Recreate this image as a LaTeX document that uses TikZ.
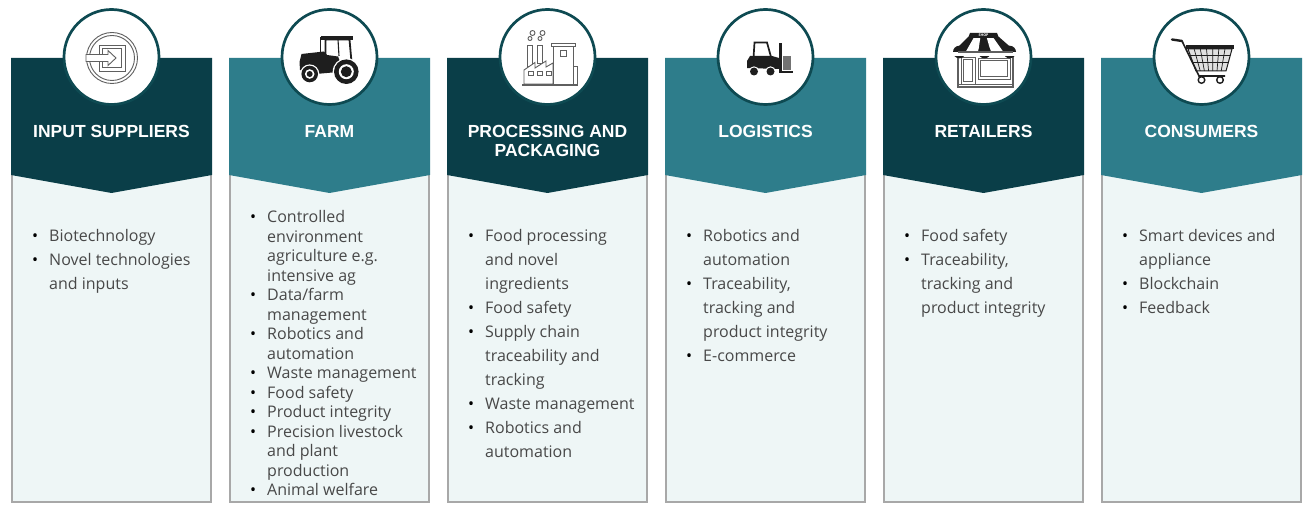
\documentclass[tikz,border=0pt]{standalone}
\usepackage{fontspec}
\setmainfont{Open Sans}
\newfontfamily\headfont{Liberation Sans}
\definecolor{darkteal}{RGB}{10,62,72}
\definecolor{midteal}{RGB}{46,125,139}
\definecolor{ringcol}{RGB}{14,74,82}
\definecolor{bodyfill}{RGB}{238,246,246}
\definecolor{boxline}{RGB}{168,168,168}
\definecolor{txtcol}{RGB}{72,72,72}
\definecolor{icongray}{RGB}{95,95,95}
\definecolor{iconblack}{RGB}{30,30,30}
\newcommand\bul{\makebox[17pt][l]{\textcolor{black}{\textbullet}}}
\tikzset{
  bodybox/.style={draw=boxline, line width=2pt, fill=bodyfill},
  ring/.style={circle, draw=ringcol, line width=2.7pt, fill=white, minimum size=95pt, inner sep=0pt},
  headtext/.style={anchor=north, inner sep=0pt, text=white, align=center,
    font=\headfont\bfseries\fontsize{17.5}{19.5}\selectfont},
  listtext/.style={anchor=base west, inner sep=0pt, text=txtcol, font=\fontsize{16}{24}\selectfont},
  farmtext/.style={listtext, font=\fontsize{16}{19.5}\selectfont},
  icon/.style={draw=icongray, line width=0.9pt},
}
\newcommand\stageframe[3]{%
  \draw[bodybox] (#1+1,165) rectangle (#1+200,502);
  \fill[#2] (#1,58) -- (#1+201,58) -- (#1+201,175) -- (#1+100.5,193) -- (#1,175) -- cycle;
  \node[ring] (#3) at (#1+100.5,57) {};
}
\begin{document}
\begin{tikzpicture}[x=1pt,y=-1pt]
\useasboundingbox[fill=white] (0,0) rectangle (1310,505);

% ---------- frames ----------
\stageframe{11}{darkteal}{c1}
\stageframe{229}{midteal}{c2}
\stageframe{447}{darkteal}{c3}
\stageframe{665}{midteal}{c4}
\stageframe{883}{darkteal}{c5}
\stageframe{1101}{midteal}{c6}

% ---------- headings ----------
\node[headtext] (h1) at (111.5,125) {INPUT SUPPLIERS};
\node[headtext] (h2) at (329.5,125) {FARM};
\node[headtext] (h3) at (547.5,125) {PROCESSING AND\\PACKAGING};
\node[headtext] (h4) at (765.5,125) {LOGISTICS};
\node[headtext] (h5) at (983.5,125) {RETAILERS};
\node[headtext] (h6) at (1201.5,125) {CONSUMERS};

% ---------- lists ----------
\node[listtext] (l1) at (32,242) {\begin{tabular}[t]{@{}l@{}l@{}}
\bul & Biotechnology\\
\bul & Novel technologies\\
     & and inputs
\end{tabular}};

\node[farmtext] (l2) at (250,222.7) {\begin{tabular}[t]{@{}l@{}l@{}}
\bul & Controlled\\
     & environment\\
     & agriculture e.g.\\
     & intensive ag\\
\bul & Data/farm\\
     & management\\
\bul & Robotics and\\
     & automation\\
\bul & Waste management\\
\bul & Food safety\\
\bul & Product integrity\\
\bul & Precision livestock\\
     & and plant\\
     & production\\
\bul & Animal welfare
\end{tabular}};

\node[listtext] (l3) at (468,242) {\begin{tabular}[t]{@{}l@{}l@{}}
\bul & Food processing\\
     & and novel\\
     & ingredients\\
\bul & Food safety\\
\bul & Supply chain\\
     & traceability and\\
     & tracking\\
\bul & Waste management\\
\bul & Robotics and\\
     & automation
\end{tabular}};

\node[listtext] (l4) at (686,242) {\begin{tabular}[t]{@{}l@{}l@{}}
\bul & Robotics and\\
     & automation\\
\bul & Traceability,\\
     & tracking and\\
     & product integrity\\
\bul & E-commerce
\end{tabular}};

\node[listtext] (l5) at (904,242) {\begin{tabular}[t]{@{}l@{}l@{}}
\bul & Food safety\\
\bul & Traceability,\\
     & tracking and\\
     & product integrity
\end{tabular}};

\node[listtext] (l6) at (1122,242) {\begin{tabular}[t]{@{}l@{}l@{}}
\bul & Smart devices and\\
     & appliance\\
\bul & Blockchain\\
\bul & Feedback
\end{tabular}};

% ---------- icon 1: input ----------
\begin{scope}[icon]
  \draw (112,58) circle (25.5);
  \draw (112,58) circle (22.5);
  \draw[fill=white] (99,45) rectangle (125,71);
  \draw (102.5,48.5) rectangle (121.5,67.5);
  \draw[fill=white] (86,54.5) -- (108,54.5) -- (108,50.5) -- (116,58) -- (108,65.5) -- (108,61.5) -- (86,61.5) -- cycle;
\end{scope}

% ---------- icon 2: tractor ----------
\begin{scope}[iconblack]
  \fill (299.5,62) -- (301.5,54) -- (324,51.5) -- (327,55) -- (338,56.5) -- (341,64) -- (338,72) -- (316,74) -- (300,70) -- cycle;
  \draw[line width=1.8pt] (325.5,55) -- (325.5,39.5) -- (349.5,39.5) -- (351.5,62);
  \draw[line width=1.1pt] (338,39.5) -- (339,56);
  \fill (321,36.5) rectangle (353,39.8);
  \draw[line width=1.6pt] (320.5,37) -- (320.5,52);
  \fill[white] (346.3,71.7) circle (13.6);
  \fill (346.3,71.7) circle (12.3);
  \fill[white] (346.3,71.7) circle (7.5);
  \fill (346.3,71.7) circle (5.5);
  \fill[white] (309.7,74) circle (9.6);
  \fill (309.7,74) circle (8.3);
  \fill[white] (309.7,74) circle (4.8);
  \fill (309.7,74) circle (3);
\end{scope}

% ---------- icon 3: factory ----------
\begin{scope}[icon]
  \draw[fill=white] (527.5,45) rectangle (532.5,66);
  \draw[fill=white] (537.5,45) rectangle (542.5,63);
  \draw[fill=white] (524,84) -- (524,70) -- (535,62.5) -- (535,68) -- (546,61) -- (546,67) -- (553,63) -- (553,84) -- cycle;
  \draw[fill=white] (553,46) rectangle (573,84);
  \draw[fill=white] (551,43) rectangle (575,46.5);
  \draw (560,50) rectangle (566,56);
  \draw (573,66) rectangle (577,84);
  \draw (528,71) rectangle (533,75.5);
  \draw (537,71) rectangle (542,75.5);
  \draw (546,71) rectangle (551,75.5);
  \draw (530,38.5) circle (2);
  \draw (532.5,33) circle (2.5);
  \draw (540,38.5) circle (2);
  \draw (542.5,33) circle (2.5);
  \draw[line width=2.2pt] (522,85) -- (578,85);
\end{scope}

% ---------- icon 4: forklift ----------
\begin{scope}[iconblack]
  \draw[line width=1.7pt] (753.5,58) -- (754.5,42.5) -- (767,42.5) -- (771,57);
  \fill (747,68) -- (747,61) -- (750,56) -- (772,56) -- (779,58) -- (779,69) -- cycle;
  \fill[white] (754,71.5) circle (5.2);
  \fill (754,71.5) circle (4);
  \fill[white] (770.5,71.5) circle (5.2);
  \fill (770.5,71.5) circle (4);
  \fill (778.5,43) rectangle (781.5,73.5);
  \fill (781.5,71.5) rectangle (793,73.5);
  \fill[black!55] (782.5,56) rectangle (791,70);
\end{scope}

% ---------- icon 5: shop ----------
\begin{scope}[icon]
  \draw[line width=1.3pt, fill=white] (958,52) rectangle (1013,87);
  \draw (961,57) rectangle (975,84);
  \draw (963.5,59.5) rectangle (972.5,81.5);
  \draw (978,58) rectangle (1010,79);
  \draw (980.5,60.5) rectangle (1007.5,76.5);
  \draw (958,84) -- (1013,84);
\end{scope}
\fill[iconblack] (968,37) -- (999,37) -- (1016,52) -- (953,52) -- cycle;
\fill[white] (974.2,37) -- (980.4,37) -- (978.2,52) -- (965.6,52) -- cycle;
\fill[white] (986.6,37) -- (992.8,37) -- (1003.4,52) -- (990.8,52) -- cycle;
\foreach \cx in {959.3,984.5,1009.7}{\fill[iconblack] (\cx,52) circle (6.3);}
\fill[white] (950,52) rectangle (1018,56);
\draw[icongray, line width=1.3pt] (958,52) -- (1013,52);
\fill[iconblack] (970,33) -- (997,33) -- (999,38) -- (968,38) -- cycle;
\node[text=white, inner sep=0pt, font=\bfseries\fontsize{3.6}{4}\selectfont] (shop) at (983.5,35.6) {SHOP};

% ---------- icon 6: cart ----------
\begin{scope}[iconblack]
  \draw[line width=1pt, fill=black!12] (1188,49) -- (1232,49) -- (1226,71) -- (1196,71) -- cycle;
  \foreach \t in {0.14,0.28,0.42,0.56,0.70,0.84}{
    \draw[line width=0.7pt] ({1188+44*\t},49) -- ({1196+30*\t},71);}
  \draw[line width=0.7pt] (1190,55.5) -- (1230,55.5);
  \draw[line width=0.7pt] (1192,62) -- (1229,62);
  \fill (1186,45.5) rectangle (1234,49.5);
  \draw[line width=2.4pt, line cap=round] (1172,39.5) -- (1182,41);
  \draw[line width=1.6pt] (1182,41) -- (1199,76) -- (1225,76);
  \draw[line width=1.4pt, fill=white] (1201.5,80) circle (3.3);
  \draw[line width=1.4pt, fill=white] (1220,80) circle (3.3);
\end{scope}
\end{tikzpicture}
\end{document}
